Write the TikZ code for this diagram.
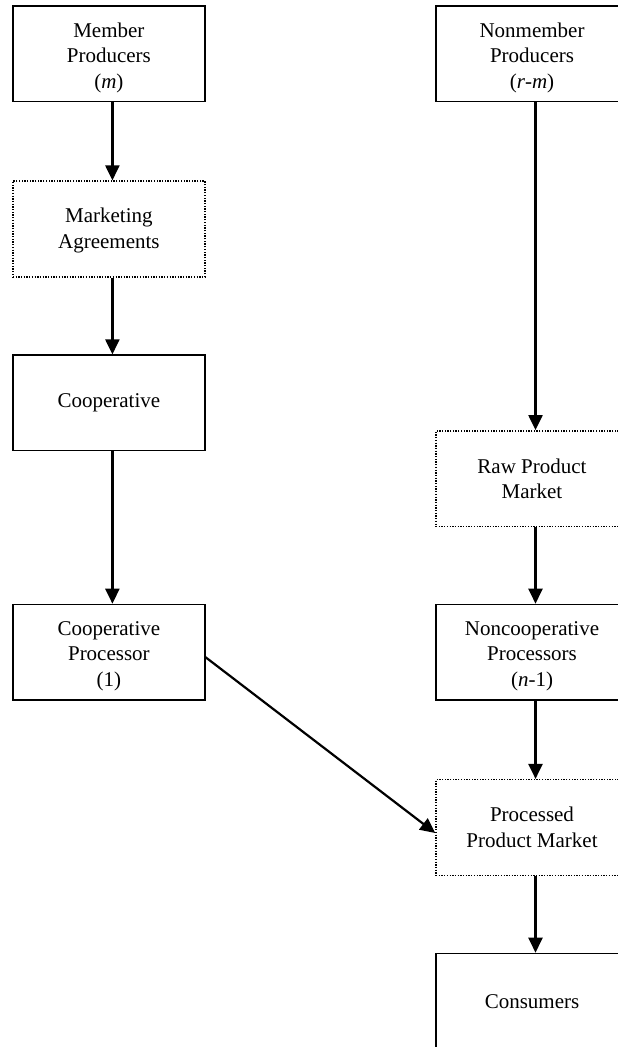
\documentclass[tikz,border=0pt]{standalone}
\usepackage{fontspec}
\setmainfont{Liberation Serif}
\usetikzlibrary{arrows.meta}
% three-line labels sit a little below the box centre
\newcommand\lowtext[1]{\raisebox{-3.5pt}[\height][\depth]{\begin{tabular}{@{}c@{}}#1\end{tabular}}}
\begin{document}
\begin{tikzpicture}[x=1pt,y=-1pt,
  box/.style={draw, line width=1.3pt, minimum width=192pt, minimum height=95.7pt,
    inner sep=0pt, align=center, font=\fontsize{21}{25.5}\selectfont},
  dotbox/.style={box, line width=1.5pt, dash pattern=on 1.3pt off 1.4pt},
  arr/.style={line width=2.2pt, -{Triangle[length=15pt,width=14pt]}}]
\useasboundingbox (0,0) rectangle (618,1047);
\clip (0,0) rectangle (618,1047);
% left column: member side
\node[box]    (mp) at (108.9,53.9)  {\lowtext{Member\\Producers\\(\textit{m})}};
\node[dotbox] (ma) at (108.9,229.0) {\raisebox{-1.5pt}[\height][\depth]{\begin{tabular}{@{}c@{}}Marketing\\Agreements\end{tabular}}};
\node[box]    (co) at (108.9,402.9) {Cooperative};
\node[box]    (cp) at (108.9,652.2) {\lowtext{Cooperative\\Processor\\(1)}};
% right column: nonmember side
\node[box]    (nm) at (532.0,53.9)  {\lowtext{Nonmember\\Producers\\(\textit{r}-\textit{m})}};
\node[dotbox] (rp) at (532.0,478.7) {Raw Product\\Market};
\node[box]    (np) at (532.0,652.2) {\lowtext{Noncooperative\\Processors\\(\textit{n}-1)}};
\node[dotbox] (pm) at (532.0,827.5) {Processed\\Product Market};
\node[box]    (cs) at (532.0,1001.2) {Consumers};
% flows
\draw[arr] ([xshift=3.5pt]mp.south) -- ([xshift=3.5pt]ma.north);
\draw[arr] ([xshift=3.5pt]ma.south) -- ([xshift=3.5pt]co.north);
\draw[arr] ([xshift=3.5pt]co.south) -- ([xshift=3.5pt]cp.north);
\draw[arr] ([xshift=3.5pt]nm.south) -- ([xshift=3.5pt]rp.north);
\draw[arr] ([xshift=3.5pt]rp.south) -- ([xshift=3.5pt]np.north);
\draw[arr] ([xshift=3.5pt]np.south) -- ([xshift=3.5pt]pm.north);
\draw[arr] ([xshift=3.5pt]pm.south) -- ([xshift=3.5pt]cs.north);
\draw[arr] ([yshift=-5pt]cp.east) -- ([yshift=-5.5pt]pm.west);
\end{tikzpicture}
\end{document}
